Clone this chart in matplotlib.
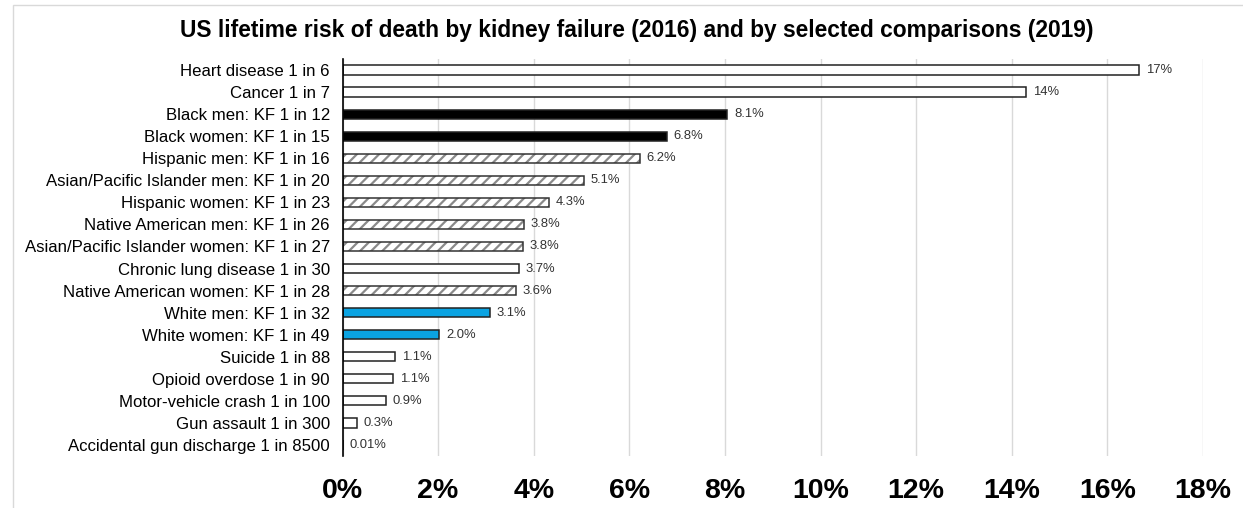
import matplotlib
matplotlib.use("Agg")
import matplotlib.pyplot as plt
from matplotlib.patches import Rectangle

plt.rcParams.update(
    {
        "font.family": ["Liberation Sans", "DejaVu Sans"],
        "hatch.linewidth": 1.6,
    }
)

# Data (top to bottom)
categories = [
    "Heart disease 1 in 6",
    "Cancer 1 in 7",
    "Black men: KF 1 in 12",
    "Black women: KF 1 in 15",
    "Hispanic men: KF 1 in 16",
    "Asian/Pacific Islander men: KF 1 in 20",
    "Hispanic women: KF 1 in 23",
    "Native American men: KF 1 in 26",
    "Asian/Pacific Islander women: KF 1 in 27",
    "Chronic lung disease 1 in 30",
    "Native American women: KF 1 in 28",
    "White men: KF 1 in 32",
    "White women: KF 1 in 49",
    "Suicide 1 in 88",
    "Opioid overdose 1 in 90",
    "Motor-vehicle crash 1 in 100",
    "Gun assault 1 in 300",
    "Accidental gun discharge 1 in 8500",
]
values = [16.67, 14.29, 8.05, 6.78, 6.22, 5.05, 4.32, 3.79, 3.77, 3.69, 3.63,
          3.08, 2.02, 1.1, 1.05, 0.9, 0.3, 0.01]
value_labels = ["17%", "14%", "8.1%", "6.8%", "6.2%", "5.1%", "4.3%", "3.8%",
                "3.8%", "3.7%", "3.6%", "3.1%", "2.0%", "1.1%", "1.1%", "0.9%",
                "0.3%", "0.01%"]
groups = ["other", "other", "black", "black", "hatch", "hatch", "hatch", "hatch",
          "hatch", "other", "hatch", "white", "white", "other", "other", "other",
          "other", "other"]
xticks = [0, 2, 4, 6, 8, 10, 12, 14, 16, 18]

fill_colors = {"other": "white", "black": "black", "white": "#0AA3E2", "hatch": "white"}

W, H = 1243, 508
fig = plt.figure(figsize=(W / 100, H / 100), dpi=100)
ax = fig.add_axes([342.5 / W, 1 - 456 / H, (1203 - 342.5) / W, (456 - 59) / H])

ypos = list(range(len(categories)))
bar_h = 0.42
for y, v, g in zip(ypos, values, groups):
    if g == "hatch":
        ax.barh(y, v, height=bar_h, color="white", edgecolor="#8a8a8a",
                hatch="///", linewidth=0, zorder=2)
        ax.barh(y, v, height=bar_h, color="none", edgecolor="#333333",
                linewidth=1.1, zorder=3)
    else:
        ax.barh(y, v, height=bar_h, color=fill_colors[g], edgecolor="#222222",
                linewidth=1.1, zorder=3)

for y, v, lab in zip(ypos, values, value_labels):
    ax.annotate(lab, (v, y), xytext=(5, 0), textcoords="offset points",
                ha="left", va="center", fontsize=9.4, color="#333333")

ax.set_xlim(0, 18)
ax.set_ylim(len(categories) - 0.5, -0.5)
ax.set_yticks(ypos)
ax.set_yticklabels(categories, fontsize=12.1)
ax.set_xticks(xticks)
ax.set_xticklabels([f"{t}%" for t in xticks], fontsize=20.5, fontweight="bold")
ax.tick_params(axis="y", length=0, pad=9)
ax.tick_params(axis="x", length=0, pad=16)
ax.grid(axis="x", color="#d9d9d9", linewidth=1.0, zorder=0)
ax.set_axisbelow(True)
for s in ["top", "right", "bottom"]:
    ax.spines[s].set_visible(False)
ax.spines["left"].set_color("black")
ax.spines["left"].set_linewidth(1.2)
ax.spines["left"].set_zorder(4)

fig.text(637 / W, 1 - 30 / H,
         "US lifetime risk of death by kidney failure (2016) and by selected comparisons (2019)",
         ha="center", va="center", fontsize=16.4, fontweight="bold")

# light chart-area border (left and top edges visible)
fig.patches.append(Rectangle((13 / W, -0.1), 1.2, 1 - 5 / H + 0.1, transform=fig.transFigure,
                             fill=False, edgecolor="#d9d9d9", linewidth=1.0))

fig.savefig("out.png", dpi=100, facecolor="white")
